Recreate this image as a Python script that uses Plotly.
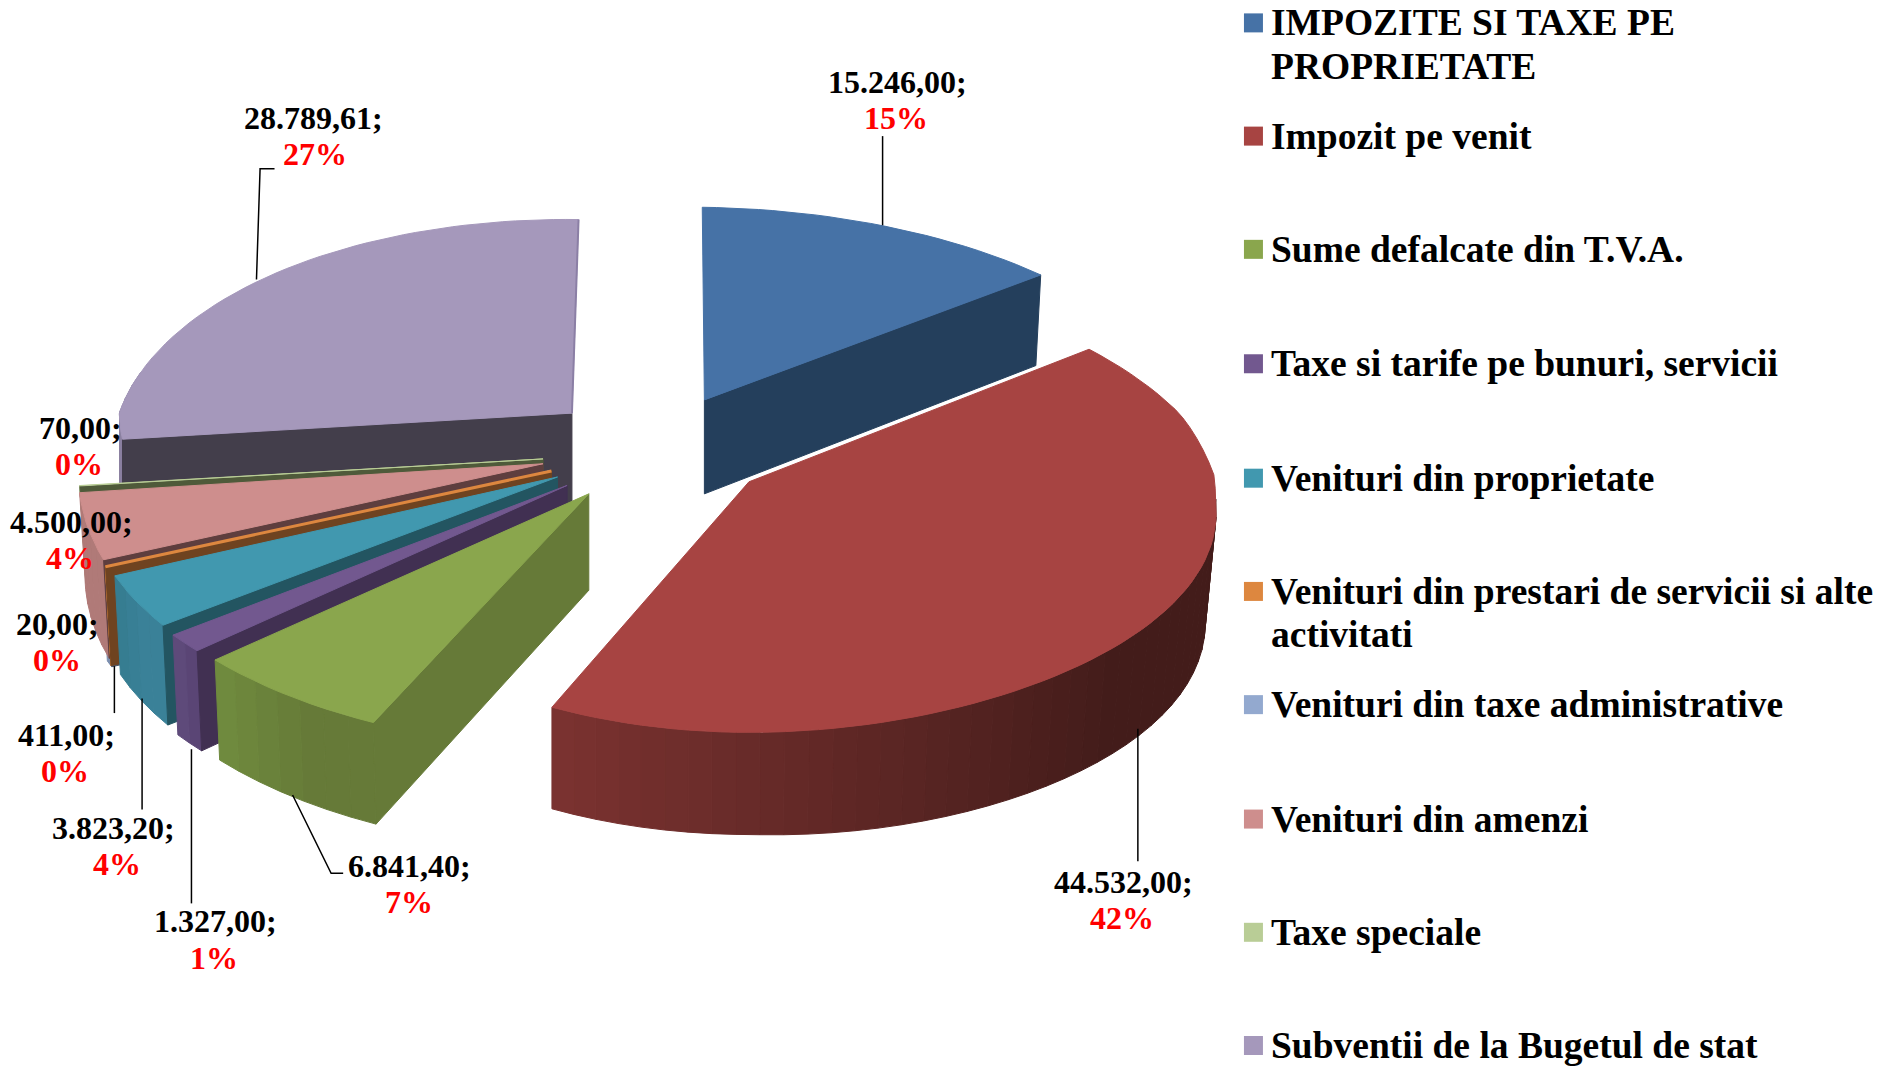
import math
import plotly.graph_objects as go

# ---- data ----
categories = ["IMPOZITE SI TAXE PE<br>PROPRIETATE", "Impozit pe venit", "Sume defalcate din T.V.A.",
              "Taxe si tarife pe bunuri, servicii", "Venituri din proprietate",
              "Venituri din prestari de servicii si alte<br>activitati", "Venituri din taxe administrative",
              "Venituri din amenzi", "Taxe speciale", "Subventii de la Bugetul de stat"]
values = [15246.00, 44532.00, 6841.40, 1327.00, 3823.20, 20.00, 411.00, 4500.00, 70.00, 28789.61]
value_labels = ["15.246,00;", "44.532,00;", "6.841,40;", "1.327,00;", "3.823,20;", "20,00;", "411,00;",
                "4.500,00;", "70,00;", "28.789,61;"]
percent_labels = ["15%", "42%", "7%", "1%", "4%", "0%", "0%", "4%", "0%", "27%"]

# ---- styles ----
top_colors = ["#4672A6", "#A74442", "#8AA64D", "#72588F", "#4198AF", "#DD873F", "#93A9CF", "#CE8E8D", "#B9CD96", "#A598BB"]
face_colors = ["#243F5C", None, "#667A38", "#413052", "#235561", "#6F4320", "#4A5568", "#5E3E3E", "#4F5A3A", "#433E4B"]
wall_left = ["#2A4A6C", "#7A3230", "#6F8A3E", "#5E4A7A", "#367D91", "#C87A38", "#7C8FAF", "#B07A78", "#9DB07F", "#8B80A0"]
wall_right = ["#1E3650", "#431C1A", "#667A38", "#5A4575", "#3A8198", "#C87A38", "#7C8FAF", "#B07A78", "#9DB07F", "#8B80A0"]
outline = [1, 1, 1, 1, 1, 3, 1, 1, 1, 1]

# ---- layout of the exploded slices (axis units = shrunk picture units) ----
apex_x = [585, 622, 489, 471, 463, 458, 456, 451, 451, 475]
apex_y = [332, 400, 410, 403, 396, 391, 391, 385, 381, 343]
rad_x = [402, 388, 410, 406, 391, 403, 400, 385, 387, 376]
rad_x_left = [402, 375, 410, 406, 391, 403, 400, 385, 387, 376]
rad_y = [200, 208, 211, 210, 208, 202, 205, 215, 205, 201]
rear_x = [0.2, 0.205, 0.2, 0.2, 0.2, 0.2, 0.2, 0.2, 0.2, 0.2]
rear_y = [0.2, 0.17, 0.2, 0.2, 0.2, 0.2, 0.2, 0.2, 0.2, 0.2]
knee = [0, 0.1, 0, 0, 0, 0, 0, 0, 0, 0]
shear = [13, 0, 0, 0, -21, 0, 0, -20, 0, 5]
skew = [0, 26, 0, 0, 0, 0, 0, 0, 0, 0]
height = [78, 80, 80, 80, 80, 80, 80, 80, 80, 80]
height_right = [0, 11, 0, 0, 0, 0, 0, 0, 0, 0]
inset_right = [5, 9, 5, 5, 5, 5, 5, 5, 5, 5]
inset_left = [5, 0, 5, 5, 5, 5, 5, 5, 5, 0]
draw_order = [9, 0, 8, 6, 7, 5, 4, 3, 2, 1]
rotation = 2.0

label_x = [745, 933, 340, 179, 94, 48, 55, 59, 67, 260]
label_y = [68, 732, 719, 765, 687, 518, 610, 433, 355, 98]
pct_x = [744, 932, 340, 178, 97, 47, 54, 58, 66, 262]
pct_dy = 30
leaders = [[(733, 113), (733, 187)], [(945, 605), (945, 715)], [(243, 660), (275, 725), (285, 725)],
           [(159, 622), (159, 750)], [(118, 580), (118, 672)], [(95, 553), (95, 592)],
           [(213, 232), (216, 140), (228, 140)]]
legend_y = [19, 113, 207, 302, 397, 491, 585, 680, 774, 868]
legend_line = 36

total = sum(values)
starts, ends, acc = [], [], rotation
for v in values:
    starts.append(acc)
    acc += v / total * 360
    ends.append(acc)


def hex_mix(c1, c2, f):
    a = [int(c1[i:i + 2], 16) for i in (1, 3, 5)]
    b = [int(c2[i:i + 2], 16) for i in (1, 3, 5)]
    return "rgb(%d,%d,%d)" % tuple(round(p + (q - p) * f) for p, q in zip(a, b))


def proj(i, deg, r=1.0, low=False):
    X = math.sin(math.radians(deg)) * r
    Y = -math.cos(math.radians(deg)) * r
    sx = 1 + rear_x[i] * min(0.0, Y + knee[i])
    sy = 1 + rear_y[i] * min(0.0, Y)
    g = max(0.0, 1 + Y / 0.3) ** 1.5 if Y < 0 else 1 - Y
    ax = rad_x[i] if X >= 0 else rad_x_left[i]
    x = apex_x[i] + ax * sx * X + shear[i] * Y
    y = apex_y[i] + rad_y[i] * sy * Y + skew[i] * max(X, 0) * g
    if low:
        x -= inset_right[i] * max(X, 0) + inset_left[i] * min(X, 0)
        y += height[i] * (1 + 0.06 * Y) + height_right[i] * max(X, 0)
    return x, y


def poly(xs, ys, color, name, width=1):
    return go.Scatter(x=xs + xs[:1], y=ys + ys[:1], mode="lines", fill="toself", fillcolor=color,
                      line=dict(color=color, width=width), hoverinfo="text", text=name,
                      showlegend=False)


def radial_face(i, deg, name):
    pts = [proj(i, deg, 0), proj(i, deg), proj(i, deg, low=True), proj(i, deg, 0, low=True)]
    return poly([p[0] for p in pts], [p[1] for p in pts], face_colors[i], name)


fig = go.Figure()
for i in draw_order:
    name = categories[i].replace("<br>", " ")
    a0, a1 = starts[i], ends[i]
    # outer wall, only where the rim faces the viewer
    w0, w1 = max(a0, 88), min(a1, 280)
    if w1 > w0:
        n = max(2, int((w1 - w0) / 3))
        for k in range(n):
            t0 = w0 + (w1 - w0) * k / n
            t1 = w0 + (w1 - w0) * (k + 1) / n
            f = min(1.0, (1 - k / max(1, n - 1)) / 0.65)
            pts = [proj(i, t0), proj(i, t1), proj(i, t1, low=True), proj(i, t0, low=True)]
            fig.add_trace(poly([p[0] for p in pts], [p[1] for p in pts],
                               hex_mix(wall_left[i], wall_right[i], f), name))
    # flat radial face that faces the viewer
    if i == 0:
        fig.add_trace(radial_face(i, a1, name))
    elif i != 1:
        fig.add_trace(radial_face(i, a0, name))
    # top face
    n = max(3, int((a1 - a0) / 2))
    rim = [proj(i, a0 + (a1 - a0) * k / n) for k in range(n + 1)]
    c = proj(i, a0, 0)
    fig.add_trace(poly([c[0]] + [p[0] for p in rim], [c[1]] + [p[1] for p in rim], top_colors[i], name, outline[i]))
    if i == 9:  # thin lit edge along the end of the largest left slice
        e0, e1 = proj(i, a1), proj(i, a1, 0)
        fig.add_trace(go.Scatter(x=[e0[0], e1[0]], y=[e0[1], e1[1]], mode="lines", hoverinfo="skip", showlegend=False,
                                 line=dict(color="#8B7FA5", width=2)))

for pts in leaders:
    fig.add_trace(go.Scatter(x=[p[0] for p in pts], y=[p[1] for p in pts], mode="lines",
                             line=dict(color="black", width=1.5), hoverinfo="skip", showlegend=False))

annotations = []
for i in range(len(values)):
    annotations.append(dict(x=label_x[i], y=label_y[i], text="<b>%s</b>" % value_labels[i], showarrow=False,
                            xanchor="center", yanchor="middle", font=dict(family="Liberation Serif", size=32, color="black")))
    annotations.append(dict(x=pct_x[i], y=label_y[i] + pct_dy, text="<b>%s</b>" % percent_labels[i], showarrow=False,
                            xanchor="center", yanchor="middle", font=dict(family="Liberation Serif", size=32, color="#FF0000")))
    for j, line in enumerate(categories[i].split("<br>")):
        annotations.append(dict(x=1053.5, y=legend_y[i] + j * legend_line, text="<b>%s</b>" % line, showarrow=False,
                                xanchor="left", yanchor="middle", align="left",
                                font=dict(family="Liberation Serif", size=37.5, color="black")))

fig.add_trace(go.Scatter(x=[1041] * len(values), y=legend_y, mode="markers", hoverinfo="skip", showlegend=False,
                         marker=dict(symbol="square", size=19, color=top_colors, line=dict(width=0))))

fig.update_layout(
    width=1888, height=1066, margin=dict(l=0, r=0, t=0, b=0), paper_bgcolor="white", plot_bgcolor="white",
    xaxis=dict(range=[0, 1568], visible=False, fixedrange=True),
    yaxis=dict(range=[885, 0], visible=False, fixedrange=True),
    annotations=annotations, showlegend=False,
)
fig.write_html("out.html", config=dict(displayModeBar=False),
               post_script="document.body.style.margin='0';document.body.style.overflow='hidden';")
